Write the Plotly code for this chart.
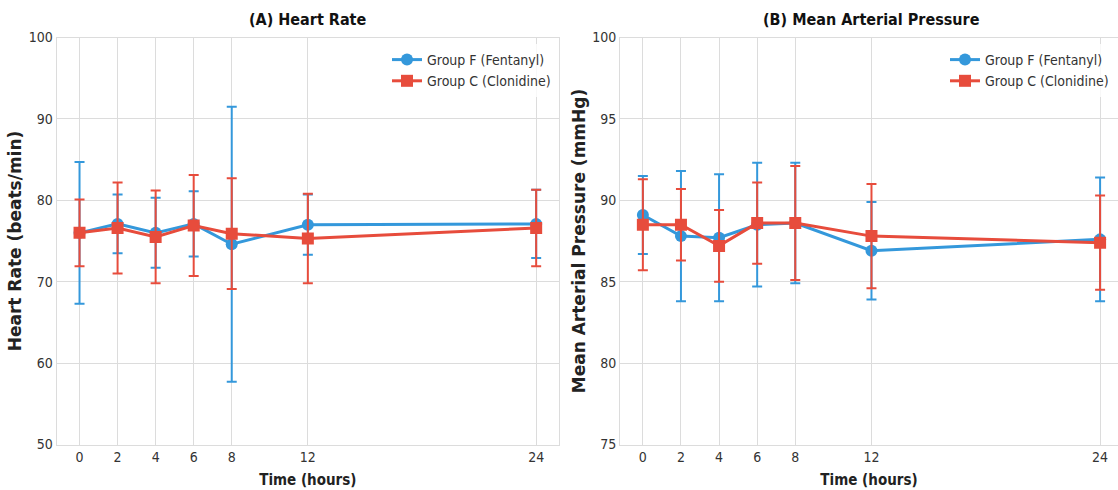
import plotly.graph_objects as go

hours = [0, 2, 4, 6, 8, 12, 24]

hr_f_mean = [76.0, 77.1, 76.0, 77.1, 74.6, 77.0, 77.1]
hr_f_sd = [8.7, 3.6, 4.3, 4.0, 16.9, 3.7, 4.2]
hr_c_mean = [76.0, 76.6, 75.5, 76.9, 75.9, 75.3, 76.6]
hr_c_sd = [4.1, 5.6, 5.7, 6.2, 6.8, 5.5, 4.7]

map_f_mean = [89.1, 87.8, 87.7, 88.5, 88.6, 86.9, 87.6]
map_f_sd = [2.4, 4.0, 3.9, 3.8, 3.7, 3.0, 3.8]
map_c_mean = [88.5, 88.5, 87.2, 88.6, 88.6, 87.8, 87.4]
map_c_sd = [2.8, 2.2, 2.2, 2.5, 3.5, 3.2, 2.9]

label_f = "Group F (Fentanyl)"
label_c = "Group C (Clonidine)"
blue = "#3498db"
red = "#e74c3c"

FONT = "DejaVu Sans Condensed, DejaVu Sans"
FONT_WIDE = "DejaVu Sans"
fig = go.Figure()

def add_pair(xa, ya, fm, fs, cm, cs, legend, show):
    fig.add_trace(go.Scatter(
        x=hours, y=fm, mode="lines+markers", name=label_f,
        line=dict(color=blue, width=3),
        marker=dict(symbol="circle", size=12, color=blue),
        error_y=dict(type="data", array=fs, visible=True, color=blue, thickness=2, width=5),
        xaxis=xa, yaxis=ya, legend=legend, showlegend=show))
    fig.add_trace(go.Scatter(
        x=hours, y=cm, mode="lines+markers", name=label_c,
        line=dict(color=red, width=3),
        marker=dict(symbol="square", size=12, color=red),
        error_y=dict(type="data", array=cs, visible=True, color=red, thickness=2, width=5),
        xaxis=xa, yaxis=ya, legend=legend, showlegend=show))

add_pair("x", "y", hr_f_mean, hr_f_sd, hr_c_mean, hr_c_sd, "legend", True)
add_pair("x2", "y2", map_f_mean, map_f_sd, map_c_mean, map_c_sd, "legend2", True)

W, H = 1118, 490
ydom = [(H - 444.5) / H, (H - 37.5) / H]
grid = "#dcdcdc"
title_font = dict(family=FONT, size=15, color="#222222")
ytitle_font = dict(family=FONT_WIDE, size=17, color="#222222")
common_x = dict(tickvals=hours, showgrid=True, gridcolor=grid, gridwidth=1,
                showline=True, linecolor=grid, linewidth=1, mirror=True,
                zeroline=False, ticks="", automargin=False,
                tickfont=dict(family=FONT, size=14, color="#333333"),
                title=dict(text="<b>Time (hours)</b>", font=title_font, standoff=10))
common_y = dict(showgrid=True, gridcolor=grid, gridwidth=1,
                showline=True, linecolor=grid, linewidth=1, mirror=True,
                zeroline=False, ticks="", automargin=False,
                tickfont=dict(family=FONT, size=14, color="#333333"))

fig.update_layout(
    width=W, height=H,
    margin=dict(l=0, r=0, t=0, b=0, autoexpand=False),
    paper_bgcolor="white", plot_bgcolor="white",
    font=dict(family=FONT, color="#222222"),
    xaxis=dict(domain=[56.7 / W, 559 / W], range=[-1.2, 25.2], anchor="y", **common_x),
    yaxis=dict(domain=ydom, range=[50, 100], dtick=10, anchor="x",
               title=dict(text="<b>Heart Rate (beats/min)</b>", font=ytitle_font, standoff=2),
               **common_y),
    xaxis2=dict(domain=[620 / W, 1.0], range=[-1.2, 24.94], anchor="y2", **common_x),
    yaxis2=dict(domain=ydom, range=[75, 100], dtick=5, anchor="x2",
                title=dict(text="<b>Mean Arterial Pressure (mmHg)</b>", font=ytitle_font, standoff=2),
                **common_y),
    legend=dict(x=556 / W, y=(H - 44) / H, xanchor="right", yanchor="top",
                bgcolor="rgba(255,255,255,0.8)", font=dict(family=FONT, size=14, color="#333333")),
    legend2=dict(x=1114 / W, y=(H - 44) / H, xanchor="right", yanchor="top",
                 bgcolor="rgba(255,255,255,0.8)", font=dict(family=FONT, size=14, color="#333333")),
    annotations=[
        dict(text="<b>(A) Heart Rate</b>", x=(56.7 + 559) / 2 / W, y=(H - 19) / H, xref="paper", yref="paper",
             showarrow=False, font=dict(family=FONT, size=16, color="#111111"), xanchor="center", yanchor="middle"),
        dict(text="<b>(B) Mean Arterial Pressure</b>", x=(620 + 1122) / 2 / W, y=(H - 19) / H, xref="paper", yref="paper",
             showarrow=False, font=dict(family=FONT, size=16, color="#111111"), xanchor="center", yanchor="middle"),
    ],
)

fig.write_html("out.html", config={"displayModeBar": False},
               post_script="document.body.style.margin='0';document.body.style.overflow='hidden';")
